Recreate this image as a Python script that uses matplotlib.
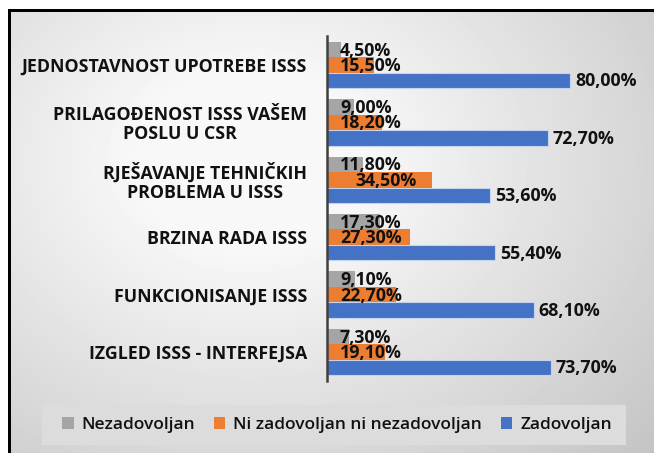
import numpy as np
import matplotlib
matplotlib.use('Agg')
import matplotlib.pyplot as plt
from matplotlib.patches import Rectangle, Patch

categories = ["JEDNOSTAVNOST UPOTREBE ISSS",
              "PRILAGOĐENOST ISSS VAŠEM\nPOSLU U CSR",
              "RJEŠAVANJE TEHNIČKIH\nPROBLEMA U ISSS",
              "BRZINA RADA ISSS",
              "FUNKCIONISANJE ISSS",
              "IZGLED ISSS - INTERFEJSA"]
nezadovoljan = [4.5, 9.0, 11.8, 17.3, 9.1, 7.3]
ni_ni = [15.5, 18.2, 34.5, 27.3, 22.7, 19.1]
zadovoljan = [80.0, 72.7, 53.6, 55.4, 68.1, 73.7]
series_names = ["Nezadovoljan", "Ni zadovoljan ni nezadovoljan", "Zadovoljan"]
colors = ['#a5a5a5', '#ed7d31', '#4472c4']

FONT = 'Open Sans'
W, H = 654, 453
fig = plt.figure(figsize=(W / 100, H / 100), dpi=100)

# background gradient
bg = fig.add_axes([0, 0, 1, 1])
yy, xx = np.mgrid[0:H, 0:W]
r = np.sqrt(((xx - 250) / 420) ** 2 + ((yy - 160) / 330) ** 2)
v = np.clip(261 - 50 * r, 0, 248) / 255
bg.imshow(v, cmap='gray', vmin=0, vmax=1, extent=(0, W, H, 0), aspect='auto',
          interpolation='bilinear')
bg.set_xlim(0, W)
bg.set_ylim(H, 0)
bg.axis('off')
bg.add_patch(Rectangle((0, 0), W, 9, color='white', lw=0))
bg.add_patch(Rectangle((0, 0), 8, H, color='white', lw=0))
bg.add_patch(Rectangle((8, 9), 3, H, color='black', lw=0))
bg.add_patch(Rectangle((8, 9), W, 3, color='black', lw=0))
bg.add_patch(Rectangle((42, 405), 584, 40, color='#dcdcdc', lw=0))

ax = fig.add_axes([327 / W, 1 - 380.7 / H, 303.75 / W, 344.4 / H])
ax.patch.set_alpha(0)
y = np.arange(len(categories))
h = 0.27
ax.barh(y - h, nezadovoljan, height=h, color=colors[0])
ax.barh(y, ni_ni, height=h, color=colors[1])
ax.barh(y + h, zadovoljan, height=h, color=colors[2], edgecolor='#c5d3ec', linewidth=0.8)
ax.set_xlim(0, 100)
ax.set_ylim(5.5, -0.5)
for s in ['top', 'right', 'bottom']:
    ax.spines[s].set_visible(False)
ax.spines['left'].set_color('#404040')
ax.spines['left'].set_linewidth(1.8)
ax.set_xticks([])
ax.set_yticks(y)
ax.set_yticklabels(categories, fontsize=12.8, fontweight='bold', family=FONT,
                   color='#111111', linespacing=1.05)
for lbl in ax.get_yticklabels():
    lbl.set_multialignment('center')
ax.tick_params(axis='y', length=0, pad=14.4)

def fmt(val):
    return f"{val:.2f}".replace('.', ',') + '%'

lab_kw = dict(textcoords='offset pixels', va='center', ha='left', fontsize=12.8,
              fontweight='bold', family=FONT, color='#111111')
for i in range(len(categories)):
    ax.annotate(fmt(nezadovoljan[i]), (0, y[i] - h), xytext=(13, -1), **lab_kw)
    off = 13 if ni_ni[i] < 30 else 28
    ax.annotate(fmt(ni_ni[i]), (0, y[i]), xytext=(off, -1), **lab_kw)
    ax.annotate(fmt(zadovoljan[i]), (zadovoljan[i], y[i] + h), xytext=(5, -1), **lab_kw)

handles = [Patch(facecolor=c, edgecolor='none') for c in colors]
fig.legend(handles, series_names, loc='center', bbox_to_anchor=(337 / W, 1 - 425 / H),
           ncol=3, frameon=False, handlelength=0.65, handleheight=0.65,
           handletextpad=0.45, columnspacing=1.1,
           prop={'family': ['Open Sans SemiBold', FONT], 'size': 12.5, 'weight': 'semibold'},
           labelcolor='#111111')

fig.savefig('out.png', dpi=100)
